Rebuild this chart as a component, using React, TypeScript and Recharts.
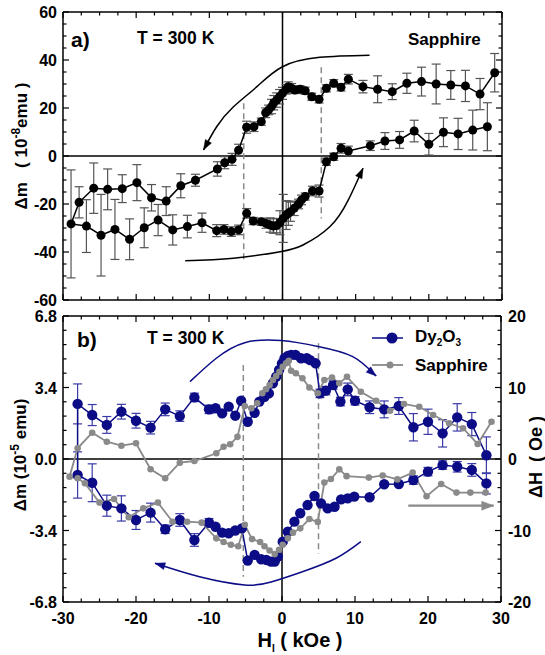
import React from 'react';
import { LineChart, Line, XAxis, YAxis, ReferenceLine, ErrorBar, Legend } from 'recharts';

const FONT = '"Liberation Sans", Arial, Helvetica, sans-serif';
const NAVY = '#0c0c86';
const NAVY_ERR = '#3a3aa8';
const GRAY = '#8a8a8a';

// ---------- Panel a : Sapphire, Δm (10^-8 emu), [H (kOe), Δm, error] ----------
const aDescending: [number, number, number][] = [
  [29, 34.7, 8], [27, 25.8, 6.5], [25, 29.2, 6.5], [23, 29.6, 6], [21, 30, 8.3], [19, 31, 6],
  [17, 30.3, 4.2], [15, 26.8, 3.3], [13, 27.8, 5.6], [11, 28.9, 2.6], [9, 32, 2], [8, 28.6, 1.5],
  [7, 30.3, 1.5], [6, 28.2, 1.5], [5, 23.6, 1.5], [4, 24.7, 1.5], [3.1, 27.2, 1.5], [2.4, 27.8, 1.5],
  [1.7, 27.5, 1.5], [1.25, 28.2, 2], [0.8, 28.9, 2], [0.5, 27.8, 2], [0, 26.1, 2.5], [-0.4, 24.7, 3],
  [-0.8, 23.3, 3], [-1.2, 22.2, 3], [-1.5, 20.6, 3], [-1.9, 19.2, 2], [-2.3, 18, 2], [-2.9, 14.3, 1.5],
  [-3.9, 12.2, 2], [-4.9, 12, 2.5], [-6, 2.4, 2.5], [-6.9, -1.4, 2.5], [-7.9, -2.8, 2.5], [-8.9, -5.4, 3],
  [-11.9, -10.1, 2.5], [-13.9, -12.4, 5], [-15.9, -18.8, 6], [-17.9, -17.4, 5.5], [-19.9, -11.1, 7.5],
  [-21.9, -13.6, 5.8], [-23.9, -13.9, 8.5], [-25.8, -13.4, 10.5], [-27.8, -19.3, 6.5],
];
const aAscending: [number, number, number][] = [
  [-28.9, -28.3, 22.5], [-26.8, -29.2, 11], [-24.8, -33, 17], [-22.9, -30.6, 12.5], [-20.9, -34.7, 8.5],
  [-18.9, -29.9, 8.3], [-17, -26.7, 6.5], [-15, -30.8, 6.3], [-13, -29.4, 4.7], [-11, -27.8, 4],
  [-9, -31.1, 2.5], [-8, -30.6, 2], [-7, -31.5, 2], [-6, -30.8, 2], [-4.9, -23.9, 2], [-4, -27.1, 1.5],
  [-2.9, -27.4, 1.5], [-2.25, -28.1, 2], [-1.7, -28.75, 3], [-1.25, -29.2, 3], [-0.8, -29, 3],
  [-0.35, -27.8, 5], [0.1, -26, 10], [0.5, -24.6, 6], [0.8, -23.9, 5], [1.1, -23.2, 4], [1.6, -21.8, 3],
  [2.2, -20, 2], [2.6, -18.3, 2], [3.1, -16.9, 1.5], [4.1, -14.6, 2], [5, -14.6, 2.5], [6, -2.4, 1.5],
  [7, -0.3, 1.5], [8, 3.2, 2], [9, 2.1, 2], [12, 4.3, 2], [14, 6.25, 3.5], [16, 6.7, 3.5],
  [18, 10.4, 4.5], [20, 4.9, 4.5], [22, 9.9, 6], [24, 9.2, 6.5], [26, 10.8, 8.3], [28, 12.2, 10],
];
const aArrowTop: [number, number][] = [[11.9, 42], [5.1, 41.1], [0, 37.2], [-3.5, 28.9], [-6.7, 20.5], [-9, 12.2], [-10.8, 2.5]];
const aArrowBottom: [number, number][] = [[-13.3, -43.6], [-6.7, -42.6], [-0.3, -39.9], [2.8, -37.1], [6.5, -29.4], [9, -18.3], [11, -5.1]];
const aDashLeft: [number, number][] = [[-5.3, 22], [-5.3, -44]];
const aDashRight: [number, number][] = [[5.3, 37], [5.3, -26]];

// ---------- Panel b : Dy2O3 Δm (10^-5 emu) [H, Δm, err]; Sapphire ΔH (Oe) [H, ΔH] ----------
const dyDescending: [number, number, number][] = [
  [28, 0.18, 0.87], [26, 1.66, 0.55], [24, 1.98, 0.65], [22, 1.22, 0.65], [20, 1.77, 0.6], [18, 1.51, 0.65],
  [16, 2.52, 0.4], [14, 2.36, 0.4], [12, 2.46, 0.3], [10, 2.77, 0.2], [9, 3.31, 0.3], [8, 2.73, 0.2],
  [7, 3.52, 0.2], [6, 3.25, 0.2], [5.2, 3.12, 0.2], [4.6, 4.55, 0], [3.85, 4.7, 0], [3.4, 4.79, 0],
  [2.6, 4.79, 0], [1.85, 4.95, 0], [1.25, 4.95, 0], [0.8, 4.9, 0], [0.35, 4.79, 0], [0, 4.55, 0],
  [-0.4, 4.23, 0], [-0.8, 3.91, 0], [-1.25, 3.6, 0], [-1.8, 3.12, 0], [-2.4, 2.96, 0], [-3.1, 2.73, 0],
  [-3.75, 2.2, 0], [-4.7, 1.77, 0], [-5.6, 2.77, 0], [-6.4, 2.06, 0], [-7.3, 2.49, 0], [-8.2, 2.17, 0],
  [-9.1, 2.41, 0.15], [-10, 2.36, 0.2], [-12, 2.93, 0.2], [-14, 2.04, 0.25], [-16, 2.36, 0.3],
  [-18, 1.49, 0.3], [-20, 1.82, 0.35], [-22, 2.25, 0.35], [-24, 1.62, 0.4], [-26, 2.09, 0.5], [-28, 2.62, 0.95],
];
const dyAscending: [number, number, number][] = [
  [-28, -0.76, 1.1], [-26, -1.13, 0.9], [-24, -2.22, 0.5], [-22, -2.35, 0.6], [-20, -2.9, 0.45],
  [-18, -2.55, 0.45], [-16, -3.34, 0.2], [-14, -2.9, 0.3], [-12, -3.85, 0.3], [-10, -3.03, 0.2],
  [-9.1, -3.22, 0.1], [-8.2, -3.5, 0], [-7.3, -3.53, 0], [-6.4, -3.4, 0], [-5.5, -3.3, 0], [-4.7, -4.83, 0],
  [-3.75, -4.56, 0], [-2.85, -4.77, 0], [-2.15, -4.8, 0], [-1.5, -4.88, 0], [-1, -4.88, 0], [-0.57, -4.64, 0],
  [0.1, -3.93, 0], [0.8, -3.46, 0], [1.7, -2.98, 0], [2.5, -2.58, 0], [3.5, -2.19, 0], [4.45, -1.76, 0],
  [5.35, -2.11, 0], [6.25, -2.35, 0], [7.2, -2.27, 0], [8.1, -1.92, 0], [9, -1.87, 0], [9.9, -1.79, 0],
  [12, -1.82, 0], [14, -1.2, 0], [16, -1.19, 0], [18, -1, 0.2], [20, -0.6, 0.2], [22, -0.29, 0.2],
  [24, -0.37, 0.25], [26, -0.52, 0.3], [28, -1.16, 0.5],
];
const sapDescending: [number, number][] = [
  [28.7, 5.2], [26.8, 2.1], [24.8, 4.3], [22.9, 5.0], [20.7, 6.15], [18.8, 7.3], [16.7, 7.7], [14.8, 6.75],
  [12.9, 8.15], [10.8, 9.4], [8.9, 11.5], [7.85, 10.6], [6.85, 11.4], [5.8, 11.05], [4.9, 9.2], [3.75, 10.0],
  [2.8, 11.3], [1.9, 12.0], [1.25, 12.35], [0.93, 13.75], [0.57, 13.4], [0.1, 12.9], [-0.35, 12.2],
  [-0.8, 11.6], [-1.25, 11.05], [-1.7, 10.35], [-2.2, 9.75], [-2.7, 9.2], [-3.4, 7.8], [-4.2, 7.1],
  [-5.1, 7.4], [-6.1, 3.1], [-7.1, 2.06], [-8, 1.72], [-9, 0.8], [-12, -0.28], [-14, -0.52], [-16, -2.7],
  [-18, -1.44], [-20, 2.2], [-22, 1.86], [-24, 2.42], [-26, 3.68], [-28, 1.5], [-29.1, -2.47],
];
const sapAscending: [number, number][] = [
  [-28, -2.7], [-27, -3.4], [-25, -6.1], [-23, -5.6], [-21, -8.15], [-19, -6.9], [-17, -6.1], [-15, -8.77],
  [-13, -8.77], [-11, -8.9], [-9, -11.1], [-8, -11.6], [-7, -12.0], [-6, -12.2], [-5.1, -9.2], [-4.1, -11.2],
  [-3, -11.6], [-2.4, -12.2], [-1.7, -12.8], [-1, -13.3], [-0.4, -12.7], [0.1, -12.0], [0.8, -11.1],
  [1.5, -10.3], [2.5, -9.7], [3.75, -8.4], [4.9, -8.8], [5.8, -3.3], [6.7, -2.8], [7.85, -1.45], [8.85, -2.4],
  [11.9, -2.6], [13.8, -2.3], [15.8, -2.85], [17.9, -1.9], [19.8, -5.2], [21.8, -3.5], [23.9, -4.7],
  [25.8, -4.7], [27.9, -4.7],
];
const bArrowTop: [number, number][] = [[-12.6, 3.68], [-9, 4.79], [-5.1, 5.53], [-0.1, 5.63], [5.1, 5.34], [9.7, 4.87], [12.9, 3.95]];
const bArrowBottom: [number, number][] = [[10.8, -3.93], [7.4, -4.72], [2.8, -5.36], [-1.5, -5.85], [-5.1, -5.99], [-11.3, -5.6], [-17.4, -4.96]];
const bArrowAxis: [number, number][] = [[17.3, -6.53], [29, -6.53]];
const bDashLeft: [number, number][] = [[-5.3, 4.47], [-5.3, -5.6]];
const bDashRight: [number, number][] = [[5.0, 5.5], [5.0, -4.5]];

// ---------- ticks ----------
const xTicks = Array.from({ length: 25 }, (_, i) => -30 + i * 2.5);
const aYTicks = Array.from({ length: 25 }, (_, i) => -60 + i * 5);
const bLeftTicks = Array.from({ length: 21 }, (_, i) => Number((-6.8 + i * 0.68).toFixed(2)));
const bRightTicks = Array.from({ length: 21 }, (_, i) => -20 + i * 2);

const toXYE = (arr: [number, number, number][]) => arr.map(([x, y, e]) => ({ x, y, e }));
const toXY = (arr: [number, number][]) => arr.map(([x, y]) => ({ x, y }));

const aLoop = toXYE([...aDescending, ...aAscending]);
const dyLoop = toXYE([...dyDescending, ...dyAscending]);
const sapLoop = toXY([...sapDescending, ...sapAscending]);

type Side = 'bottom' | 'top' | 'left' | 'right';
const isMult = (step: number) => (v: number) => Math.abs(v / step - Math.round(v / step)) < 1e-6;

function makeTick(side: Side, isMajor: (v: number) => boolean, fmt?: (v: number) => string) {
  return (props: any) => {
    const { x, y, payload } = props;
    const v = payload.value as number;
    const maj = isMajor(v);
    const len = maj ? 6 : 3.5;
    const dx = side === 'left' ? len : side === 'right' ? -len : 0;
    const dy = side === 'bottom' ? -len : side === 'top' ? len : 0;
    const common = { fontFamily: FONT, fontWeight: 700, fontSize: 16, fill: '#000' } as const;
    let label: React.ReactNode = null;
    if (fmt && maj) {
      if (side === 'bottom') label = <text x={x} y={y + 22} textAnchor="middle" {...common}>{fmt(v)}</text>;
      if (side === 'left') label = <text x={x - 6} y={y + 6} textAnchor="end" {...common}>{fmt(v)}</text>;
      if (side === 'right') label = <text x={x + 7} y={y + 6} textAnchor="start" {...common}>{fmt(v)}</text>;
    }
    return (
      <g>
        <line x1={x} y1={y} x2={x + dx} y2={y + dy} stroke="#000" strokeWidth={1.2} />
        {label}
      </g>
    );
  };
}

function makeArrowDot(color: string, n: number, len: number, half: number) {
  const pts: Record<number, [number, number]> = {};
  return (p: any) => {
    const { cx, cy, index } = p;
    pts[index] = [cx, cy];
    if (index !== n - 1 || !pts[index - 1]) return <g key={`a${index}`} />;
    const [px, py] = pts[index - 1];
    const ang = Math.atan2(cy - py, cx - px);
    const ux = Math.cos(ang), uy = Math.sin(ang);
    const bx = cx - ux * len, by = cy - uy * len;
    const pts2 = `${cx},${cy} ${bx - uy * half},${by + ux * half} ${bx + uy * half},${by - ux * half}`;
    return <polygon key={`a${index}`} points={pts2} fill={color} stroke={color} strokeWidth={0.5} />;
  };
}

const axisLine = { stroke: '#000', strokeWidth: 1.5 };

const Txt = ({ x, y, size, children, center }: { x: number; y: number; size: number; children: React.ReactNode; center?: boolean }) => (
  <div style={{
    position: 'absolute', left: x, top: y, transform: `translate(${center ? '-50%' : '0'}, -50%)`,
    fontFamily: FONT, fontWeight: 700, fontSize: size, whiteSpace: 'nowrap', lineHeight: 1, color: '#000',
  }}>{children}</div>
);

const RotTxt = ({ x, y, size, children }: { x: number; y: number; size: number; children: React.ReactNode }) => (
  <div style={{
    position: 'absolute', left: x, top: y, transform: 'translate(-50%, -50%) rotate(-90deg)',
    fontFamily: FONT, fontWeight: 700, fontSize: size, whiteSpace: 'nowrap', lineHeight: 1, color: '#000',
  }}>{children}</div>
);

const sup = (s: string, size: number) => <span style={{ fontSize: size, verticalAlign: 'super' }}>{s}</span>;
const sub = (s: string, size: number) => <span style={{ fontSize: size, verticalAlign: 'sub' }}>{s}</span>;

const LegendBox = () => (
  <div style={{ position: 'relative', width: 150, height: 60 }}>
    <svg width={150} height={60} style={{ position: 'absolute', left: 0, top: 0 }}>
      <line x1={7} y1={12} x2={38} y2={12} stroke={NAVY} strokeWidth={1.5} />
      <circle cx={27} cy={12} r={5.5} fill={NAVY} />
      <line x1={7} y1={39} x2={38} y2={39} stroke={GRAY} strokeWidth={1.8} />
      <circle cx={25} cy={39} r={3.5} fill={GRAY} />
    </svg>
    <div style={{ position: 'absolute', left: 50, top: 12, transform: 'translateY(-50%)', fontFamily: FONT, fontWeight: 700, fontSize: 17, whiteSpace: 'nowrap', lineHeight: 1 }}>
      Dy{sub('2', 10)}O{sub('3', 10)}
    </div>
    <div style={{ position: 'absolute', left: 50, top: 39, transform: 'translateY(-50%)', fontFamily: FONT, fontWeight: 700, fontSize: 17, whiteSpace: 'nowrap', lineHeight: 1 }}>
      Sapphire
    </div>
  </div>
);

const axisCommon = {
  type: 'number' as const, interval: 0 as const, tickSize: 0, tickMargin: 0, tickLine: false,
  axisLine, allowDataOverflow: true,
};

export default function App() {
  const arcA1 = toXY(aArrowTop), arcA2 = toXY(aArrowBottom);
  const arcB1 = toXY(bArrowTop), arcB2 = toXY(bArrowBottom), arcB3 = toXY(bArrowAxis);
  return (
    <div style={{ position: 'absolute', left: 0, top: 0, width: 545, height: 655, background: '#fff', overflow: 'hidden' }}>
      {/* Panel a */}
      <div style={{ position: 'absolute', left: 0, top: 0 }}>
        <LineChart width={545} height={312} margin={{ top: 11, right: 42, bottom: 11, left: 62 }}>
          <XAxis xAxisId={0} dataKey="x" domain={[-30, 30]} ticks={xTicks} height={1} {...axisCommon}
            tick={makeTick('bottom', isMult(10))} />
          <XAxis xAxisId="top" orientation="top" dataKey="x" domain={[-30, 30]} ticks={xTicks} height={1} {...axisCommon}
            tick={makeTick('top', isMult(10))} />
          <YAxis yAxisId={0} domain={[-60, 60]} ticks={aYTicks} width={1} {...axisCommon}
            tick={makeTick('left', isMult(20), (v) => String(v))} />
          <YAxis yAxisId="r" orientation="right" domain={[-60, 60]} ticks={aYTicks} width={1} {...axisCommon}
            tick={makeTick('right', isMult(20))} />
          <ReferenceLine x={0} stroke="#000" strokeWidth={1.5} />
          <ReferenceLine y={0} stroke="#000" strokeWidth={1.5} />
          <ReferenceLine segment={toXY(aDashLeft)} stroke={GRAY} strokeWidth={1.5} strokeDasharray="6 4" />
          <ReferenceLine segment={toXY(aDashRight)} stroke={GRAY} strokeWidth={1.5} strokeDasharray="6 4" />
          <Line data={aLoop} dataKey="y" stroke="#000" strokeWidth={1.5} isAnimationActive={false}
            dot={{ r: 4.5, fill: '#000', stroke: '#000', strokeWidth: 0 }} activeDot={false}>
            <ErrorBar dataKey="e" width={4.5} stroke="#555" strokeWidth={1.2} direction="y" />
          </Line>
          <Line data={arcA1} dataKey="y" type="natural" stroke="#000" strokeWidth={1.5} isAnimationActive={false}
            dot={makeArrowDot('#000', arcA1.length, 10, 3.5)} activeDot={false} />
          <Line data={arcA2} dataKey="y" type="natural" stroke="#000" strokeWidth={1.5} isAnimationActive={false}
            dot={makeArrowDot('#000', arcA2.length, 10, 3.5)} activeDot={false} />
        </LineChart>
      </div>

      {/* Panel b */}
      <div style={{ position: 'absolute', left: 0, top: 300 }}>
        <LineChart width={545} height={355} margin={{ top: 15, right: 43, bottom: 52, left: 62 }}>
          <XAxis xAxisId={0} dataKey="x" domain={[-30, 30]} ticks={xTicks} height={1} {...axisCommon}
            tick={makeTick('bottom', isMult(10), (v) => String(v))} />
          <XAxis xAxisId="top" orientation="top" dataKey="x" domain={[-30, 30]} ticks={xTicks} height={1} {...axisCommon}
            tick={makeTick('top', isMult(10))} />
          <YAxis yAxisId={0} domain={[-6.8, 6.8]} ticks={bLeftTicks} width={1} {...axisCommon}
            tick={makeTick('left', isMult(3.4), (v) => v.toFixed(1))} />
          <YAxis yAxisId="r" orientation="right" domain={[-20, 20]} ticks={bRightTicks} width={1} {...axisCommon}
            tick={makeTick('right', isMult(10), (v) => String(v))} />
          <ReferenceLine x={0} stroke="#000" strokeWidth={1.5} />
          <ReferenceLine y={0} stroke="#000" strokeWidth={1.5} />
          <ReferenceLine segment={toXY(bDashLeft)} stroke={GRAY} strokeWidth={1.5} strokeDasharray="6 4" />
          <ReferenceLine segment={toXY(bDashRight)} stroke={GRAY} strokeWidth={1.5} strokeDasharray="6 4" />
          <Line data={dyLoop} dataKey="y" stroke={NAVY} strokeWidth={1.5} isAnimationActive={false}
            dot={{ r: 5.2, fill: NAVY, stroke: NAVY, strokeWidth: 0 }} activeDot={false} name="Dy2O3">
            <ErrorBar dataKey="e" width={4.5} stroke={NAVY_ERR} strokeWidth={1.2} direction="y" />
          </Line>
          <Line data={sapLoop} yAxisId="r" dataKey="y" stroke={GRAY} strokeWidth={1.8} isAnimationActive={false}
            dot={{ r: 3.3, fill: GRAY, stroke: GRAY, strokeWidth: 0 }} activeDot={false} name="Sapphire" />
          <Line data={arcB1} dataKey="y" type="natural" stroke={NAVY} strokeWidth={1.5} isAnimationActive={false}
            dot={makeArrowDot(NAVY, arcB1.length, 10, 3.5)} activeDot={false} legendType="none" />
          <Line data={arcB2} dataKey="y" type="natural" stroke={NAVY} strokeWidth={1.5} isAnimationActive={false}
            dot={makeArrowDot(NAVY, arcB2.length, 10, 3.5)} activeDot={false} legendType="none" />
          <Line data={arcB3} yAxisId="r" dataKey="y" stroke={GRAY} strokeWidth={2.2} isAnimationActive={false}
            dot={makeArrowDot(GRAY, arcB3.length, 12, 4.5)} activeDot={false} legendType="none" />
          <Legend layout="vertical" align="center" verticalAlign="middle" content={() => <LegendBox />}
            wrapperStyle={{ position: 'absolute', left: 365, top: 26, width: 150, height: 60 }} />
        </LineChart>
      </div>

      {/* Text annotations */}
      <Txt x={71} y={39} size={21}>a)</Txt>
      <Txt x={137} y={39} size={17.5}>T = 300 K</Txt>
      <Txt x={408} y={39} size={17}>Sapphire</Txt>
      <Txt x={77} y={339} size={21}>b)</Txt>
      <Txt x={147} y={339} size={17.5}>T = 300 K</Txt>
      <Txt x={300} y={642} size={20} center>H{sub('I', 10)} ( kOe )</Txt>
      <RotTxt x={20} y={146} size={17}>Δm&nbsp;&nbsp;&nbsp;( 10{sup('-8', 12)}emu )</RotTxt>
      <RotTxt x={19} y={455} size={17}>Δm (10{sup('-5', 12)} emu)</RotTxt>
      <RotTxt x={536} y={457} size={18}>ΔH&nbsp;&nbsp;( Oe )</RotTxt>
    </div>
  );
}
